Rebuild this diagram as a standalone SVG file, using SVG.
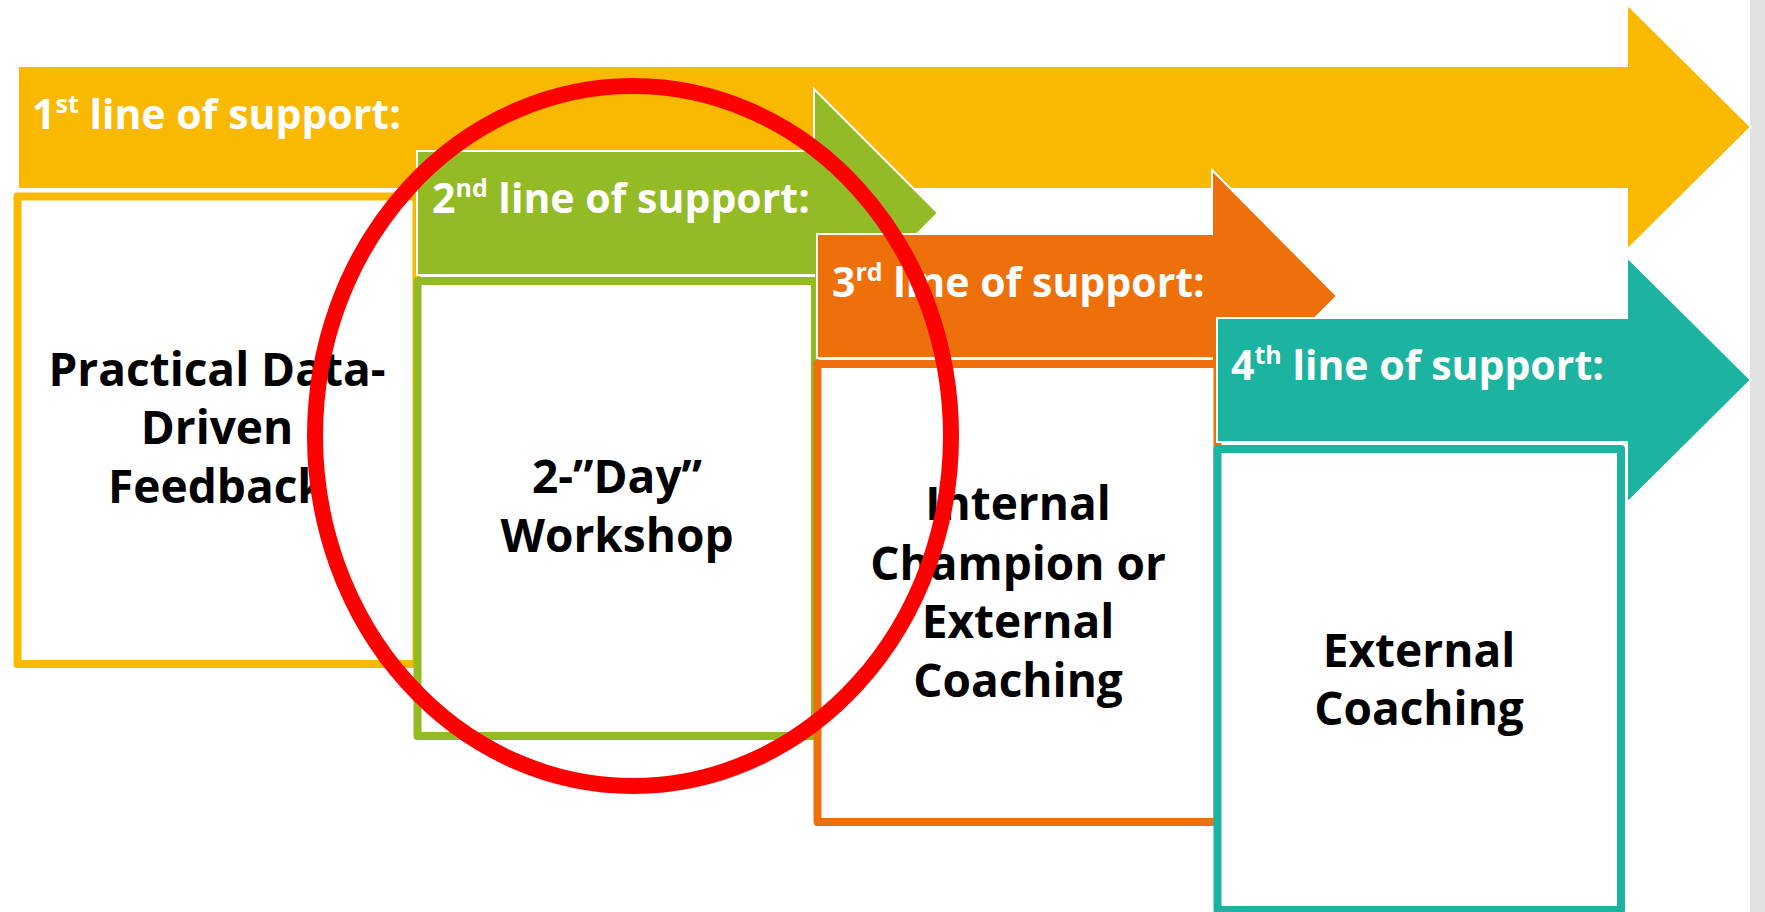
<svg xmlns="http://www.w3.org/2000/svg" width="1765" height="912" viewBox="0 0 1765 912">
<style>
.lbl{font-family:"Open Sans","Liberation Sans",sans-serif;font-weight:700;font-size:41px;fill:#fff}
.sup{font-size:25px}
.body{font-family:"Open Sans","Liberation Sans",sans-serif;font-weight:700;font-size:46px;fill:#000;text-anchor:middle}
.arrow{stroke:#fff;stroke-width:2;stroke-linejoin:miter}
.box{fill:#fff;stroke-width:8;stroke-linejoin:round}
.lrect{stroke:#fff;stroke-width:1.5}
</style>
<rect x="0" y="0" width="1765" height="912" fill="#fff"/>
<rect x="1750" y="0" width="15" height="912" fill="#e1e1e1"/>

<g id="line1">
  <polygon class="arrow" fill="#f9b900" points="18,66 1627,66 1627,4 1751,127 1627,250 1627,189 18,189"/>
  <rect class="box" stroke="#f9b900" x="17.5" y="196.5" width="399" height="467.5"/>
  <text class="lbl" x="32" y="129">1<tspan class="sup" dy="-16">st</tspan><tspan dy="16"> line of support:</tspan></text>
  <text class="body"><tspan x="217" y="386">Practical Data-</tspan><tspan x="217" y="444">Driven</tspan><tspan x="217" y="503">Feedback</tspan></text>
</g>

<g id="line2">
  <polygon class="arrow" fill="#93bb25" points="417,151 814,151 814,89 938,213 814,337 814,275 417,275"/>
  <rect class="box" stroke="#93bb25" x="417.5" y="281" width="397.5" height="455"/>
  <text class="lbl" x="432" y="213">2<tspan class="sup" dy="-16">nd</tspan><tspan dy="16"> line of support:</tspan></text>
  <text class="body"><tspan x="617" y="493">2-”Day”</tspan><tspan x="617" y="552">Workshop</tspan></text>
</g>

<g id="line3">
  <polygon class="arrow" fill="#ee700b" points="817,234 1212,234 1212,170 1337,296 1212,422 1212,358 817,358"/>
  <rect class="box" stroke="#ee700b" x="817.5" y="364" width="400" height="458"/>
  <text class="lbl" x="832" y="297">3<tspan class="sup" dy="-16">rd</tspan><tspan dy="16"> line of support:</tspan></text>
  <text class="body"><tspan x="1018" y="520">Internal</tspan><tspan x="1018" y="580">Champion or</tspan><tspan x="1018" y="638">External</tspan><tspan x="1018" y="697">Coaching</tspan></text>
</g>

<g id="line4">
  <polygon class="arrow" fill="#1cb4a0" points="1217,318 1627,318 1627,257 1751,380 1627,503 1627,442 1217,442"/>
  <rect class="box" stroke="#1cb4a0" x="1217.5" y="449" width="403.5" height="461"/>
  <text class="lbl" x="1231" y="380">4<tspan class="sup" dy="-16">th</tspan><tspan dy="16"> line of support:</tspan></text>
  <text class="body"><tspan x="1419" y="667">External</tspan><tspan x="1419" y="725">Coaching</tspan></text>
</g>

<g id="highlight">
  <ellipse cx="633" cy="436" rx="318" ry="350" fill="none" stroke="#ff0000" stroke-width="16"/>
</g>
</svg>
